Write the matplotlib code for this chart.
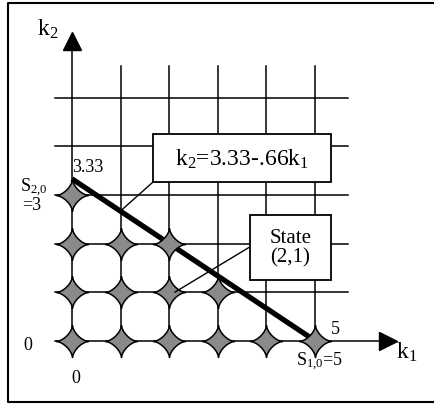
import numpy as np
import matplotlib.pyplot as plt
from matplotlib.path import Path
from matplotlib.patches import Rectangle

plt.rcParams['font.family'] = ['Liberation Serif', 'DejaVu Serif']
plt.rcParams['mathtext.default'] = 'regular'

# lattice of states (k1, k2) that lie under the constraint line
state_k1 = [0, 1, 2, 3, 4, 5, 0, 1, 2, 3, 0, 1, 2, 0]
state_k2 = [0, 0, 0, 0, 0, 0, 1, 1, 1, 1, 2, 2, 2, 3]

# constraint line k2 = 3.33 - .66 k1
line_k1 = [0, 5]
line_k2 = [3.33, 0]

grid_k1 = [1, 2, 3, 4, 5]
grid_k2 = [1, 2, 3, 4, 5]

# four pointed star marker with concave sides (astroid-like outline)
t = np.linspace(0, 2 * np.pi, 240)
p = 3.0
sx = np.sign(np.cos(t)) * np.abs(np.cos(t)) ** p
sy = np.sign(np.sin(t)) * np.abs(np.sin(t)) ** p
star = Path(np.column_stack([sx, sy]), closed=True)

fig = plt.figure(figsize=(4.35, 4.06), dpi=100)
ax = fig.add_axes([0, 0, 1, 1])
ax.set_xlim(-72 / 48.6, (435 - 72) / 48.6)
ax.set_ylim((341.7 - 406) / 48.6, 341.7 / 48.6)
ax.axis('off')

# outer frame (open on the right)
ax.plot([1.02, 0.0184, 0.0184, 1.02], [0.99, 0.99, 0.0074, 0.0074],
        transform=ax.transAxes, color='black', lw=1.5, clip_on=False)

lw = 1.1
for x in grid_k1:
    ax.plot([x, x], [0, 5.66], color='black', lw=lw, zorder=1)
for y in grid_k2:
    ax.plot([-0.35, 5.67], [y, y], color='black', lw=lw, zorder=1)

# axes with arrow heads
ax.plot([0, 0], [0, 6.15], color='black', lw=lw, zorder=1)
ax.plot([-0.35, 6.45], [0, 0], color='black', lw=lw, zorder=1)
ax.plot([0], [6.16], marker='^', ms=13, color='black', zorder=2)
ax.plot([6.5], [0], marker='>', ms=13, color='black', zorder=2)

ax.plot(line_k1, line_k2, color='black', lw=3.8, solid_capstyle='butt', zorder=3)

ax.plot(state_k1, state_k2, linestyle='none', marker=star, ms=23,
        markerfacecolor='#8a8a8a', markeredgecolor='black', markeredgewidth=1.1, zorder=4)

# callout boxes
ax.plot([1.667, 1.0], [3.265, 2.67], color='black', lw=1.0, zorder=5)
ax.add_patch(Rectangle((1.667, 3.265), 5.33 - 1.667, 4.253 - 3.265,
                       facecolor='white', edgecolor='black', lw=1.3, zorder=6))
ax.text(3.5, 3.76, '$k_2$=3.33-.66$k_1$', fontsize=17, ha='center', va='center', zorder=7)

ax.plot([3.66, 2.12], [1.93, 1.0], color='black', lw=1.0, zorder=5)
ax.add_patch(Rectangle((3.66, 1.249), 5.33 - 3.66, 2.593 - 1.249,
                       facecolor='white', edgecolor='black', lw=1.3, zorder=6))
ax.text(4.495, 1.92, 'State\n(2,1)', fontsize=15, ha='center', va='center',
        linespacing=1.05, zorder=7)

# labels
ax.text(-0.49, 6.43, '$k_2$', fontsize=17, ha='center', va='center')
ax.text(6.88, -0.21, '$k_1$', fontsize=17, ha='center', va='center')
ax.text(0.33, 3.58, '3.33', fontsize=13, ha='center', va='center')
ax.text(-0.78, 3.17, '$S_{2{,}0}$', fontsize=13, ha='center', va='center')
ax.text(-0.82, 2.8, '=3', fontsize=13, ha='center', va='center')
ax.text(-0.9, -0.07, '0', fontsize=13, ha='center', va='center')
ax.text(0.08, -0.75, '0', fontsize=13, ha='center', va='center')
ax.text(5.41, 0.26, '5', fontsize=13, ha='center', va='center')
ax.text(5.1, -0.42, '$S_{1{,}0}$=5', fontsize=13, ha='center', va='center')

fig.savefig('out.png', dpi=100)
